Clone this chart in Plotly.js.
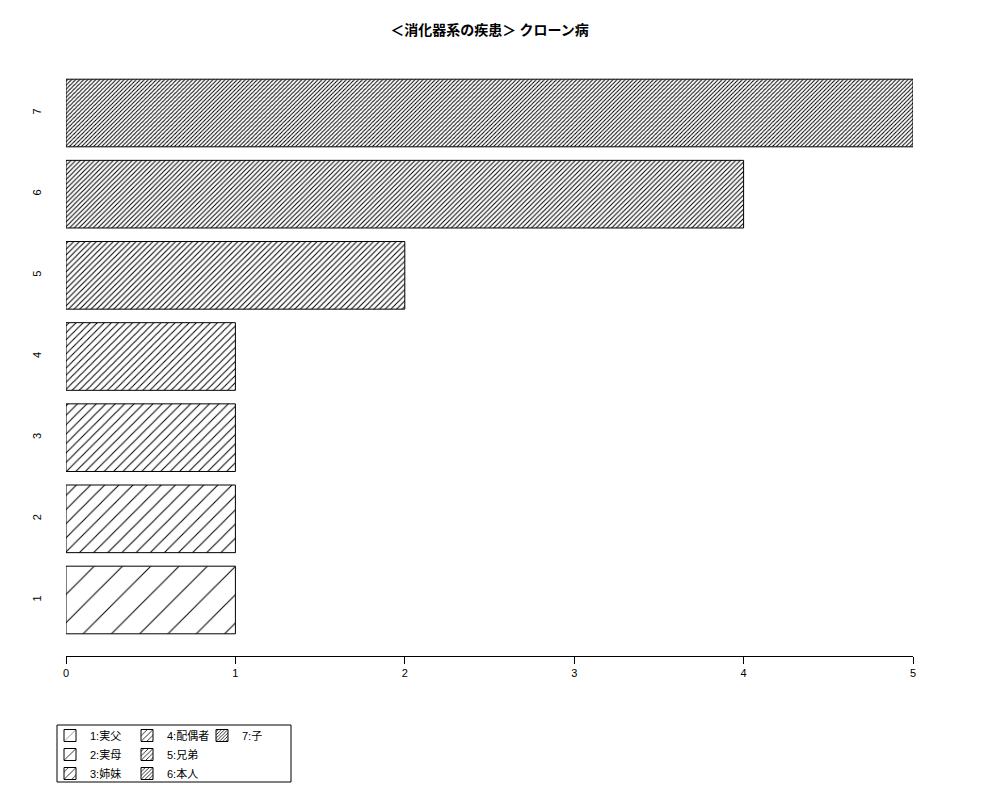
<!DOCTYPE html>
<html>
<head>
<meta charset="utf-8">
<script src="https://cdn.plot.ly/plotly-3.0.1.min.js"></script>
<style>
  body { margin: 0; background: #fff; }
  #plot { width: 1000px; height: 800px; }
</style>
</head>
<body>
<div id="plot"></div>
<script>
const categories = ["1", "2", "3", "4", "5", "6", "7"];
const counts = [1, 1, 1, 1, 2, 4, 5];
const legendNames = ["1:実父", "2:実母", "3:姉妹", "4:配偶者", "5:兄弟", "6:本人", "7:子"];
const xTicks = [0, 1, 2, 3, 4, 5];

const font = "Liberation Sans, Noto Sans CJK JP, sans-serif";

// pixel helpers for the paper coords (plot area is x 66..913, y 57..656)
const px = v => (v - 66) / 847;
const py = v => (656 - v) / 599;

// legend column for each entry, as in R's 3-column legend
const legendCols = ["legend", "legend", "legend", "legend2", "legend2", "legend2", "legend3"];

// R-style hatching, denser for each successive bar
const data = categories.map((c, i) => {
    const size = 20 / (i + 1);
    return {
        type: "bar",
        orientation: "h",
        x: [counts[i]],
        y: [c],
        name: legendNames[i],
        legend: legendCols[i],
        marker: {
            color: "white",
            line: {color: "black", width: 1},
            pattern: {shape: "/", size: size, solidity: Math.min(1 / size, 0.4), fgcolor: "black", bgcolor: "white"}
        },
        hoverinfo: "x+y"
    };
});

const legendBase = {
    orientation: "v",
    xanchor: "left",
    y: py(721), yanchor: "top",
    borderwidth: 0,
    bgcolor: "rgba(0,0,0,0)",
    traceorder: "normal",
    font: {size: 11},
    itemwidth: 30
};

Plotly.newPlot("plot", data, {
    width: 1000,
    height: 800,
    paper_bgcolor: "white",
    plot_bgcolor: "white",
    font: {family: font, size: 11, color: "black"},
    title: {
        text: "<b>＜消化器系の疾患＞ クローン病</b>",
        x: 0.4895, xanchor: "center",
        y: 0.963, yanchor: "middle",
        font: {family: "Noto Sans CJK JP, sans-serif", size: 14}
    },
    margin: {l: 66, r: 87, t: 57, b: 144, autoexpand: false},
    barmode: "overlay",
    bargap: 1 / 6,
    showlegend: true,
    xaxis: {
        range: [0, 5],
        tickvals: xTicks,
        ticks: "outside",
        ticklen: 7,
        tickcolor: "black",
        showline: true,
        linecolor: "black",
        linewidth: 1,
        showgrid: false,
        zeroline: false,
        tickfont: {size: 11}
    },
    yaxis: {
        type: "category",
        categoryorder: "array",
        categoryarray: categories,
        range: [-0.69, 6.69],
        tickangle: -90,
        ticks: "",
        ticklabelstandoff: 22,
        showline: false,
        showgrid: false,
        zeroline: false,
        tickfont: {size: 11}
    },
    legend: Object.assign({}, legendBase, {x: px(50)}),
    legend2: Object.assign({}, legendBase, {x: px(127)}),
    legend3: Object.assign({}, legendBase, {x: px(202)}),
    shapes: [{
        type: "rect", xref: "paper", yref: "paper",
        x0: px(57), x1: px(291), y0: py(782), y1: py(725),
        line: {color: "black", width: 1}, fillcolor: "rgba(0,0,0,0)"
    }]
}, {displayModeBar: false});
</script>
</body>
</html>
